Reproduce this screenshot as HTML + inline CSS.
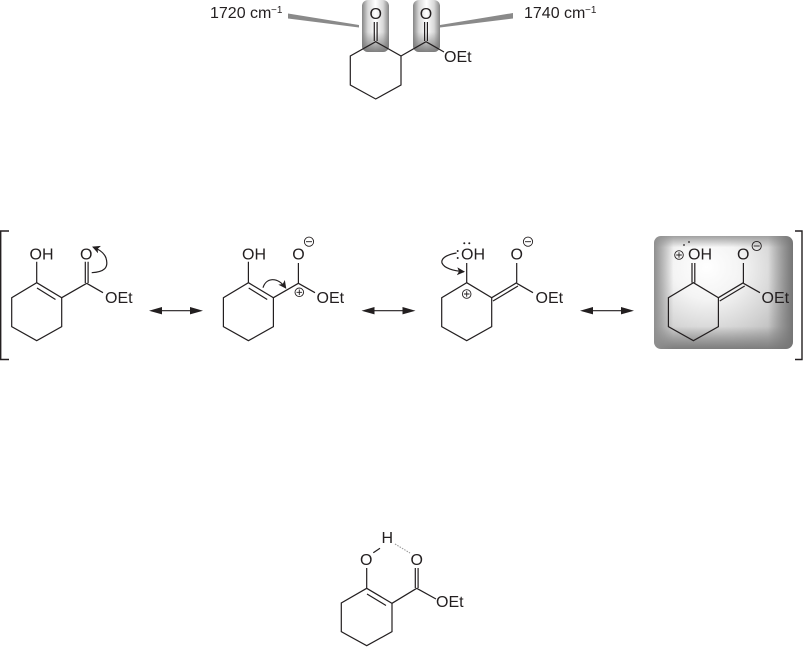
<!DOCTYPE html>
<html><head><meta charset="utf-8"><style>
html,body{margin:0;padding:0;background:#fff;width:804px;height:667px;overflow:hidden}
.g{position:absolute;box-sizing:border-box}
.b4{left:654px;top:236px;width:139px;height:113px;border-radius:7px;background:linear-gradient(to right,#8e8e8e 0,rgba(160,160,160,0) 14%,rgba(160,160,160,0) 82%,#757575 100%),linear-gradient(to bottom,#a0a0a0 0,rgba(160,160,160,0) 10%,rgba(140,140,140,0) 80%,#7d7d7d 100%),radial-gradient(ellipse 70% 80% at 38% 28%,#fff 0%,#f4f4f4 35%,#d2d2d2 75%,#bbb 100%)}
.b1{width:27px;height:52px;top:0;border-radius:6px;background:linear-gradient(to right,#858585 0,#d8d8d8 22%,#fff 50%,#d8d8d8 78%,#858585 100%);}
.b1:after{content:"";position:absolute;left:0;right:0;bottom:0;height:20px;border-radius:0 0 6px 6px;background:linear-gradient(rgba(120,120,120,0),rgba(120,120,120,.95))}
svg{position:absolute;left:0;top:0}
text{font-family:"Liberation Sans",sans-serif;font-size:16px;fill:#231f20}
.l{fill:none;stroke:#231f20;stroke-width:1.2}
</style></head><body>
<div class="g b1" style="left:362px"></div>
<div class="g b1" style="left:413px"></div>
<div class="g b4"></div>
<svg width="804" height="667" viewBox="0 0 804 667">
<defs>
<g id="ring"><path class="l" d="M36.7 282.7L61.7 297.7V326.7L36.7 340.7L11.7 326.7V297.7Z"/></g>
<g id="arr"><path class="l" d="M4 310.7H50"/><path fill="#231f20" d="M0 310.7L13 307V314.4ZM54 310.7L41 307V314.4Z"/></g>
<g id="plus"><circle class="l" cx="0" cy="0" r="4.3" style="stroke-width:.9"/><path class="l" style="stroke-width:.9" d="M-2.8 0H2.8M0-2.8V2.8"/></g>
<g id="minus"><circle class="l" cx="0" cy="0" r="4.6" style="stroke-width:.9"/><path class="l" style="stroke-width:.9" d="M-3 0H3"/></g>
<marker id="h" markerWidth="9" markerHeight="8" refX="7" refY="4" orient="auto" markerUnits="userSpaceOnUse"><path d="M0 0L8 4L0 8L2 4Z" fill="#231f20"/></marker>
</defs>

<!-- top molecule -->
<path fill="#8a8a8a" d="M288 13.5L359 25V27.5L288 18.5Z"/>
<path fill="#8a8a8a" d="M513 13L440 25V27.5L513 18.5Z"/>
<text x="210" y="18">1720 cm</text><text x="271" y="13" style="font-size:10px">−1</text>
<text x="524" y="18">1740 cm</text><text x="585" y="13" style="font-size:10px">−1</text>
<path class="l" d="M375.7 41.7L401 56V85L375.7 99L350.3 85V56Z"/>
<path class="l" d="M374.3 41V22M377.1 41V22M401 56L426 41.7M424.6 41V22M427.4 41V22M426 41.7L444 52"/>
<text x="369.5" y="19">O</text><text x="419.7" y="19">O</text><text x="444" y="62">OEt</text>

<!-- resonance 1 -->
<use href="#ring"/>
<path class="l" d="M37 288L55.5 299.5M36.7 282.7V261.7M61.7 297.7L86.7 283.3M85.3 283V261.7M88.1 283V261.7M86.7 283.3L103 292.7"/>
<text x="29.5" y="259.5">OH</text><text x="80" y="259.5">O</text><text x="105" y="303">OEt</text>
<path class="l" d="M91.7 272.7C104 272 109 268 106 258C104 252 98 249 93 247" marker-end="url(#h)"/>
<use href="#arr" x="149"/>

<!-- resonance 2 -->
<use href="#ring" x="211.7"/>
<path class="l" d="M248.7 288L267.2 299.5M248.4 282.7V261.7M273.4 297.7L298.4 283.3M298.4 283.3V263M298.4 283.3L315 292.7"/>
<text x="242" y="259.5">OH</text><text x="292.3" y="259.5">O</text><text x="316.5" y="303">OEt</text>
<use href="#minus" x="309" y="241.7"/><use href="#plus" x="299.3" y="292.3"/>
<path class="l" d="M263 287.7C266 278 277 276 285.7 288" marker-end="url(#h)"/>
<use href="#arr" x="361.5"/>

<!-- resonance 3 -->
<use href="#ring" x="430"/>
<path class="l" d="M466.7 282.7V263M491.7 297.7L516.7 282.7M493 301L518 286M516.7 283V263M516.7 283.3L533 292.7"/>
<text x="461" y="259.5">OH</text><text x="510.5" y="259.5">O</text><text x="535.5" y="303">OEt</text>
<circle cx="457.7" cy="251" r="1" fill="#231f20"/><circle cx="457.7" cy="258" r="1" fill="#231f20"/>
<circle cx="464.3" cy="243.3" r="1" fill="#231f20"/><circle cx="469.3" cy="243.3" r="1" fill="#231f20"/>
<use href="#minus" x="528" y="241.7"/><use href="#plus" x="466.7" y="294"/>
<path class="l" d="M456.5 253C445 255 441 259 442 263C444 268 453 271 464 271.7" marker-end="url(#h)"/>
<use href="#arr" x="580"/>

<!-- resonance 4 -->
<use href="#ring" x="656.7"/>
<path class="l" d="M692 282.7V263M694.8 282.7V263M718.4 297.7L743.4 282.7M719.7 301L744.7 286M743.4 283V263M743.4 283.3L760 292.7"/>
<text x="688" y="259.5">OH</text><text x="737" y="259.5">O</text><text x="761.5" y="303">OEt</text>
<circle cx="689" cy="242" r=".9" fill="#231f20"/><circle cx="684" cy="245" r=".9" fill="#231f20"/>
<use href="#plus" x="679" y="255"/><use href="#minus" x="756.7" y="246"/>

<!-- brackets -->
<path fill="none" stroke="#231f20" stroke-width="1.4" d="M9 231H.7V359.5H9M795 231H802V359.5H795"/>

<!-- bottom molecule -->
<path class="l" d="M366.7 588.3L392 603.3V631.7L366.7 645.7L341.3 631.7V603L366.7 588.3"/>
<path class="l" d="M367 594L386 605.5M366.7 588.3V568M392 603.3L416.7 588.3M415.3 588V568M418.1 588V568M416.7 588.3L436 599M373.3 552.7L380 548.3"/>
<path fill="none" stroke="#999" stroke-width="1.1" stroke-dasharray="1.5 1.2" d="M395 544L410 553"/>
<text x="360" y="565">O</text><text x="410.5" y="565">O</text><text x="381.5" y="543">H</text><text x="436" y="607">OEt</text>
</svg>
</body></html>
